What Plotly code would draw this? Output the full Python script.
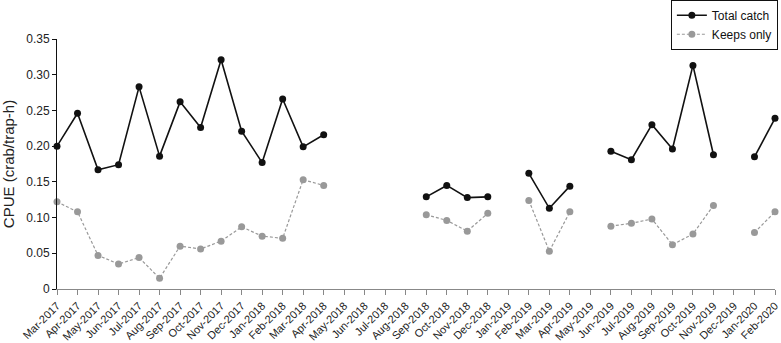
import plotly.graph_objects as go

months = ["Mar-2017", "Apr-2017", "May-2017", "Jun-2017", "Jul-2017", "Aug-2017", "Sep-2017",
          "Oct-2017", "Nov-2017", "Dec-2017", "Jan-2018", "Feb-2018", "Mar-2018", "Apr-2018",
          "May-2018", "Jun-2018", "Jul-2018", "Aug-2018", "Sep-2018", "Oct-2018", "Nov-2018",
          "Dec-2018", "Jan-2019", "Feb-2019", "Mar-2019", "Apr-2019", "May-2019", "Jun-2019",
          "Jul-2019", "Aug-2019", "Sep-2019", "Oct-2019", "Nov-2019", "Dec-2019", "Jan-2020",
          "Feb-2020"]

total_catch = [0.200, 0.246, 0.167, 0.174, 0.283, 0.186, 0.262, 0.226, 0.321, 0.221, 0.177,
               0.266, 0.199, 0.216, None, None, None, None, 0.129, 0.145, 0.128, 0.129, None,
               0.162, 0.113, 0.144, None, 0.193, 0.181, 0.230, 0.196, 0.313, 0.188, None,
               0.185, 0.239]

keeps_only = [0.122, 0.108, 0.047, 0.035, 0.044, 0.015, 0.060, 0.056, 0.067, 0.087, 0.074,
              0.071, 0.153, 0.145, None, None, None, None, 0.104, 0.096, 0.081, 0.106, None,
              0.124, 0.053, 0.108, None, 0.088, 0.092, 0.098, 0.062, 0.077, 0.117, None,
              0.079, 0.108]

y_ticks = [0, 0.05, 0.10, 0.15, 0.20, 0.25, 0.30, 0.35]
y_labels = ["0", "0.05", "0.10", "0.15", "0.20", "0.25", "0.30", "0.35"]

idx = list(range(len(months)))
FONT = "Liberation Sans, Arial, sans-serif"

fig = go.Figure()
fig.add_trace(go.Scatter(
    x=idx, y=total_catch, name="Total catch", mode="lines+markers",
    line=dict(color="#111111", width=1.6),
    marker=dict(color="#111111", size=7),
    cliponaxis=False, connectgaps=False))
fig.add_trace(go.Scatter(
    x=idx, y=keeps_only, name="Keeps only", mode="lines+markers",
    line=dict(color="#999999", width=1.2, dash="3px,2px"),
    marker=dict(color="#999999", size=7),
    cliponaxis=False, connectgaps=False))

fig.update_layout(
    width=781, height=343,
    margin=dict(l=57, r=6, t=39, b=54, autoexpand=False),
    paper_bgcolor="white", plot_bgcolor="white",
    font=dict(family=FONT, color="#222222", size=12),
    showlegend=True,
    legend=dict(x=1.004, y=1.157, xanchor="right", yanchor="top",
                bordercolor="#111111", borderwidth=1, bgcolor="white",
                font=dict(size=12, family=FONT, color="#111111"), tracegroupgap=0,
                itemwidth=30),
    xaxis=dict(range=[0, 35], tickmode="array", tickvals=idx, ticktext=months,
               tickangle=-45, showgrid=False, zeroline=False, automargin=False,
               showline=True, linecolor="#888888", linewidth=1,
               ticks="outside", ticklen=5, tickcolor="#888888",
               ticklabeloverflow="allow",
               tickfont=dict(size=11, family=FONT, color="#222222")),
    yaxis=dict(range=[0, 0.35], tickmode="array", tickvals=y_ticks, ticktext=y_labels,
               showgrid=False, zeroline=False, showline=True, linecolor="#111111",
               linewidth=1, ticks="outside", ticklen=4, tickcolor="#111111",
               automargin=False,
               tickfont=dict(size=12, family=FONT, color="#222222"),
               title=dict(text="CPUE (crab/trap-h)", font=dict(size=15, family=FONT),
                          standoff=8)),
)

fig.write_html("out.html", config={"displayModeBar": False},
               post_script="document.body.style.margin='0px';")
